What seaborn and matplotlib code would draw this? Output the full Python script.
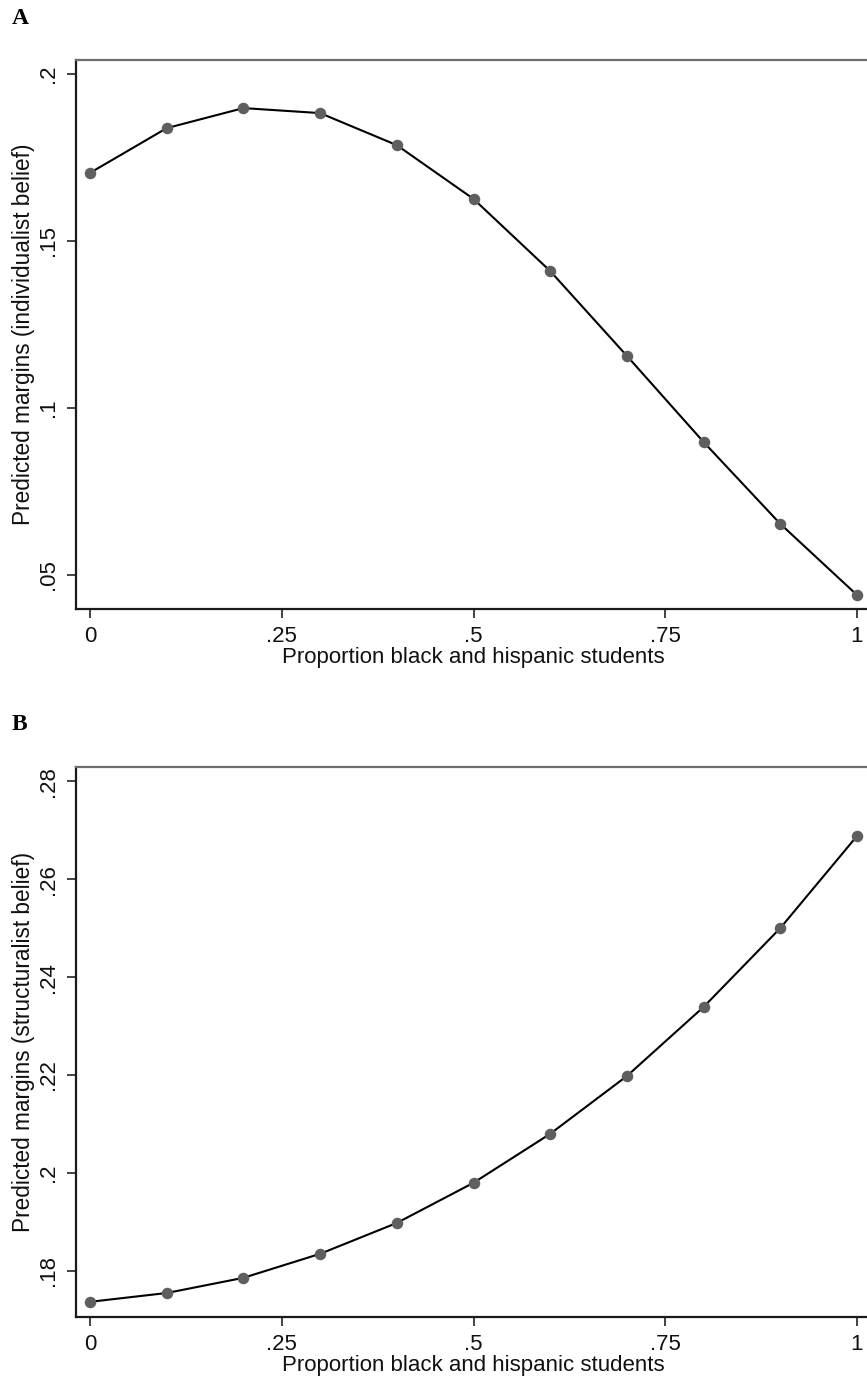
import matplotlib
matplotlib.use("Agg")
import matplotlib.pyplot as plt
import seaborn as sns
import pandas as pd

# Predicted margins over the share of black and hispanic students
proportion = [0.0, 0.1, 0.2, 0.3, 0.4, 0.5, 0.6, 0.7, 0.8, 0.9, 1.0]
individualist = [0.1704, 0.1838, 0.1898, 0.1883, 0.1787, 0.1626,
                 0.1410, 0.1156, 0.0898, 0.0653, 0.0440]
structuralist = [0.1737, 0.1755, 0.1786, 0.1835, 0.1898, 0.1980,
                 0.2080, 0.2198, 0.2339, 0.2500, 0.2688]

x_ticks = [0, 0.25, 0.5, 0.75, 1]
x_ticklabels = ["0", ".25", ".5", ".75", "1"]
a_ticks = [0.05, 0.10, 0.15, 0.20]
a_ticklabels = [".05", ".1", ".15", ".2"]
b_ticks = [0.18, 0.20, 0.22, 0.24, 0.26, 0.28]
b_ticklabels = [".18", ".2", ".22", ".24", ".26", ".28"]

x_title = "Proportion black and hispanic students"
a_ytitle = "Predicted margins (individualist belief)"
b_ytitle = "Predicted margins (structuralist belief)"

sns.set_theme(style="white")
plt.rcParams["font.family"] = ["Liberation Sans", "DejaVu Sans"]

W, H = 867, 1381
fig = plt.figure(figsize=(W / 100, H / 100), dpi=100)

def add_panel(top_px, bottom_px):
    left_px, right_px = 76, 871
    return fig.add_axes([left_px / W, 1 - bottom_px / H,
                         (right_px - left_px) / W, (bottom_px - top_px) / H])

axA = add_panel(60, 609)
axB = add_panel(767, 1317)

panels = [
    (axA, individualist, a_ticks, a_ticklabels, a_ytitle, (0.0398, 0.2042), "A", 60),
    (axB, structuralist, b_ticks, b_ticklabels, b_ytitle, (0.1706, 0.2829), "B", 767),
]

for ax, values, yt, ytl, ytitle, ylim, letter, top_px in panels:
    df = pd.DataFrame({"x": proportion, "y": values})
    sns.lineplot(data=df, x="x", y="y", ax=ax, color="black", linewidth=1.5,
                 marker="o", markersize=8.3, markerfacecolor="#5f5f5f",
                 markeredgecolor="#5f5f5f", markeredgewidth=0)
    ax.set_xlim(-0.0183, 1.0183)
    ax.set_ylim(*ylim)
    ax.set_xticks(x_ticks)
    ax.set_xticklabels(x_ticklabels)
    ax.set_yticks(yt)
    ax.set_yticklabels(ytl, rotation=90, va="center", ha="right")
    ax.tick_params(axis="both", which="major", direction="out", length=6.5,
                   width=1.2, color="#222222", labelsize=16, labelcolor="#111111",
                   left=True, bottom=True, pad=6)
    ax.set_xlabel(x_title, fontsize=16, color="#111111", labelpad=0)
    ax.set_ylabel(ytitle, fontsize=16.3, color="#111111", labelpad=2)
    for side in ("left", "bottom"):
        ax.spines[side].set_color("#1a1a1a")
        ax.spines[side].set_linewidth(1.6)
    ax.spines["top"].set_color("#6e6e6e")
    ax.spines["top"].set_linewidth(1.6)
    ax.spines["right"].set_color("#6e6e6e")
    ax.spines["right"].set_linewidth(1.6)
    ax.grid(False)
    ax.set_facecolor("white")
    fig.text(12 / W, 1 - (top_px - 42) / H, letter, fontsize=17, fontweight="bold",
             family=["Liberation Serif", "DejaVu Serif"], va="center", ha="left",
             color="black")

fig.savefig("out.png", dpi=100, facecolor="white")
